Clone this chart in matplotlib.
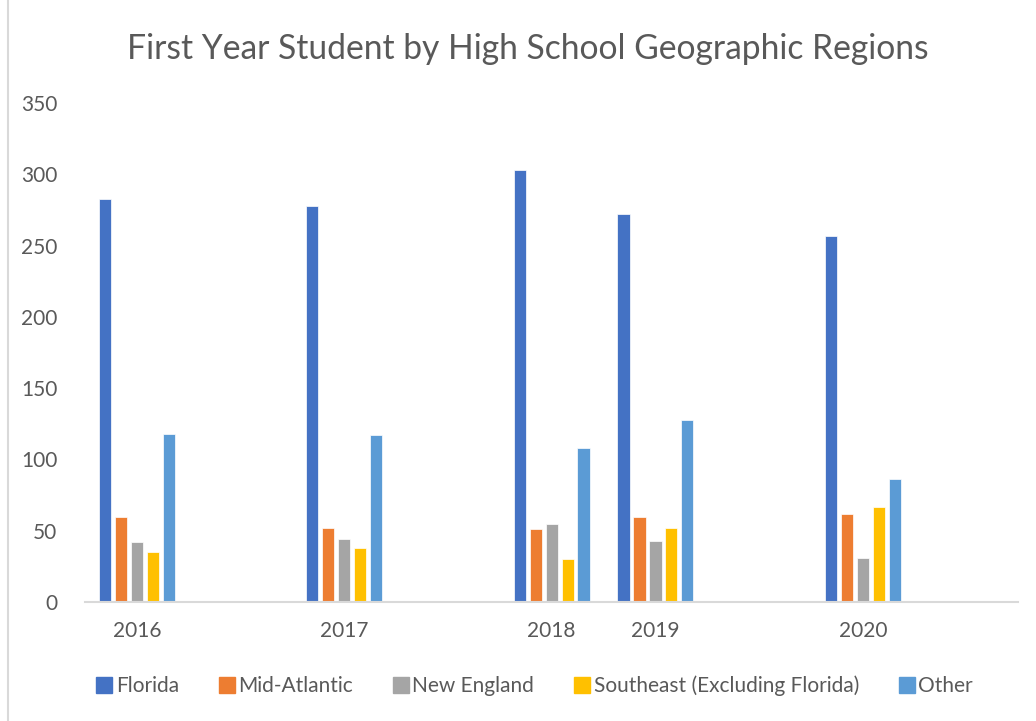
import numpy as np
import matplotlib
matplotlib.use('Agg')
import matplotlib.pyplot as plt
from matplotlib.lines import Line2D

# DATA (blank slots are empty categories on the axis)

categories = ['2016', '', '2017', '', '2018', '2019', '', '2020', '']
nan = np.nan
florida = [283, nan, 278, nan, 303, 272, nan, 257, nan]
mid_atlantic = [60, nan, 52, nan, 51, 60, nan, 62, nan]
new_england = [42, nan, 44, nan, 55, 43, nan, 31, nan]
southeast = [35, nan, 38, nan, 30, 52, nan, 67, nan]
other = [118, nan, 117, nan, 108, 128, nan, 86, nan]

series_names = ['Florida', 'Mid-Atlantic', 'New England',
                'Southeast (Excluding Florida)', 'Other']
colors = ['#4472C4', '#ED7D31', '#A5A5A5', '#FFC000', '#5B9BD5']

plt.rcParams['font.family'] = ['Lato', 'DejaVu Sans']

fig = plt.figure(figsize=(10.36, 7.21), dpi=100)
ax = fig.add_axes([0.082, 0.165, 0.901, 0.692])

x = np.arange(len(categories))
pitch = 0.154
width = 0.118

all_series = [florida, mid_atlantic, new_england, southeast, other]
for i, (vals, col) in enumerate(zip(all_series, colors)):
    ax.bar(x + (i - 2) * pitch, vals, width=width, color=col,
           edgecolor='white', linewidth=0.5)

# AXES STYLE

ax.set_xlim(-0.5, len(categories) - 0.5)
ax.set_ylim(0, 350)
ax.set_yticks(range(0, 351, 50))
ax.set_xticks(x)
ax.set_xticklabels(categories)

for s in ['top', 'right', 'left']:
    ax.spines[s].set_visible(False)
ax.spines['bottom'].set_color('#D9D9D9')
ax.spines['bottom'].set_linewidth(1.5)

ax.tick_params(axis='both', length=0, labelsize=15, colors='#595959')
ax.tick_params(axis='y', pad=20)
ax.tick_params(axis='x', pad=14)

# TITLE

fig.text(0.509, 0.932, 'First Year Student by High School Geographic Regions',
         ha='center', va='center', fontsize=24.2, color='#595959')

# LEGEND

handles = [Line2D([], [], marker='s', linestyle='', markersize=11,
                  markerfacecolor=c, markeredgecolor=c) for c in colors]
fig.legend(handles, series_names, loc='center', bbox_to_anchor=(0.515, 0.049),
           ncol=5, frameon=False, fontsize=15, labelcolor='#595959',
           handletextpad=0.05, columnspacing=1.8, handlelength=1.0)

# CHART FRAME LINE

fig.add_artist(Line2D([8 / 1036, 8 / 1036], [0, 1], color='#D9D9D9',
                      linewidth=1.5))

plt.savefig('out.png', dpi=100)
plt.close()
